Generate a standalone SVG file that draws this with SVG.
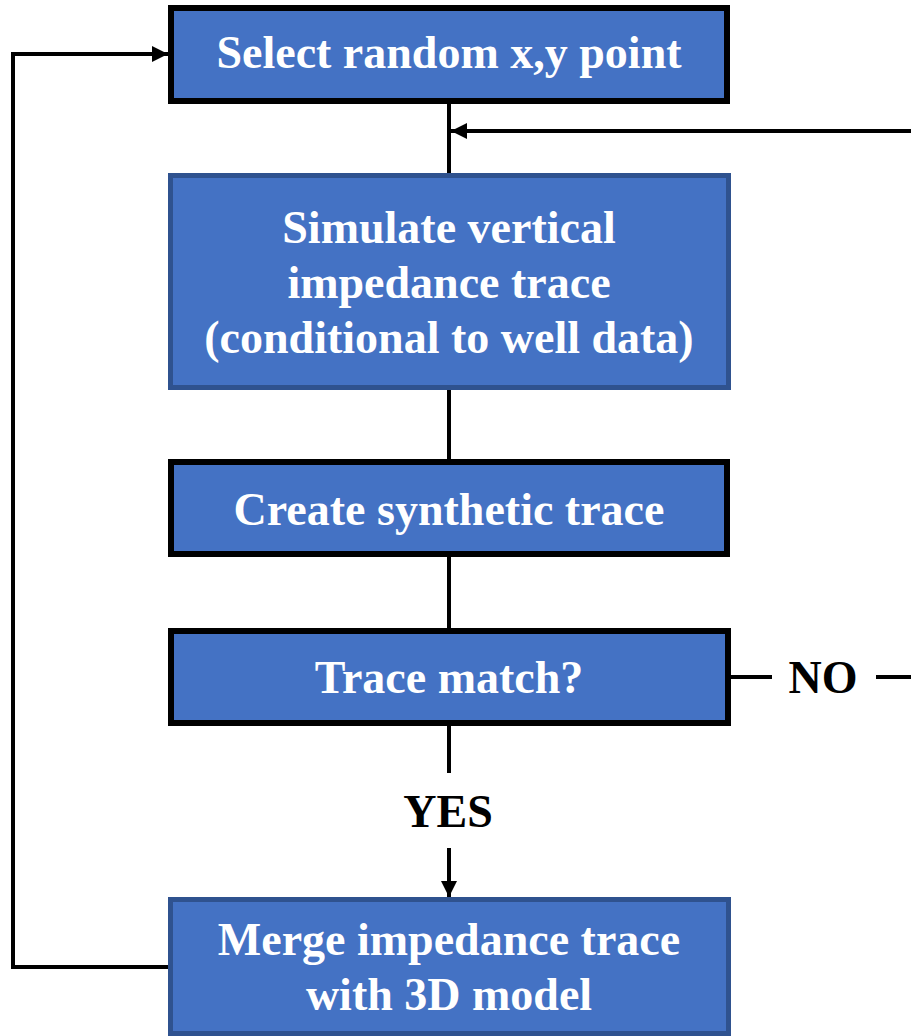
<svg xmlns="http://www.w3.org/2000/svg" width="911" height="1036" viewBox="0 0 911 1036">
<style>
.box{fill:#4472C4}
.bk{stroke:#000;stroke-width:6}
.bl{stroke:#2F528F;stroke-width:5}
.t{font-family:"Liberation Serif","Times New Roman",serif;font-weight:bold;font-size:46px;fill:#fff;text-anchor:middle}
.lbl{font-family:"Liberation Serif","Times New Roman",serif;font-weight:bold;font-size:46px;fill:#000;text-anchor:middle}
.c{fill:none;stroke:#000;stroke-width:4}
</style>
<defs>
<marker id="ah" markerUnits="userSpaceOnUse" markerWidth="16" markerHeight="16" refX="16" refY="8" orient="auto" viewBox="0 0 16 16">
<path d="M0,0 L16,8 L0,16 z" fill="#000"/>
</marker>
</defs>
<rect width="911" height="1036" fill="#fff"/>
<g id="connectors">
<line class="c" x1="449" y1="103" x2="449" y2="174"/>
<line class="c" x1="449" y1="390" x2="449" y2="460"/>
<line class="c" x1="449" y1="556" x2="449" y2="629"/>
<line class="c" x1="449" y1="725" x2="449" y2="773"/>
<line class="c" x1="449" y1="848" x2="449" y2="897" marker-end="url(#ah)"/>
<line class="c" x1="730" y1="677" x2="772" y2="677"/>
<path class="c" d="M876,677 H930 V131 H451" marker-end="url(#ah)"/>
<path class="c" d="M168,967 H13 V54 H168" marker-end="url(#ah)"/>
<text class="lbl" x="823" y="693">NO</text>
<text class="lbl" x="448" y="827">YES</text>
</g>
<g id="select">
<rect class="box bk" x="171" y="8" width="556" height="93"/>
<text class="t" x="449" y="68">Select random x,y point</text>
</g>
<g id="simulate">
<rect class="box bl" x="170.5" y="175.5" width="558" height="212"/>
<text class="t" x="449" y="243">Simulate vertical</text>
<text class="t" x="449" y="298">impedance trace</text>
<text class="t" x="449" y="353">(conditional to well data)</text>
</g>
<g id="create">
<rect class="box bk" x="171" y="462" width="556" height="92"/>
<text class="t" x="449" y="525">Create synthetic trace</text>
</g>
<g id="match">
<rect class="box bk" x="171" y="631" width="557" height="92"/>
<text class="t" x="449" y="693">Trace match?</text>
</g>
<g id="merge">
<rect class="box bl" x="170.5" y="899.5" width="558" height="134"/>
<text class="t" x="449" y="955">Merge impedance trace</text>
<text class="t" x="449" y="1010">with 3D model</text>
</g>
</svg>
